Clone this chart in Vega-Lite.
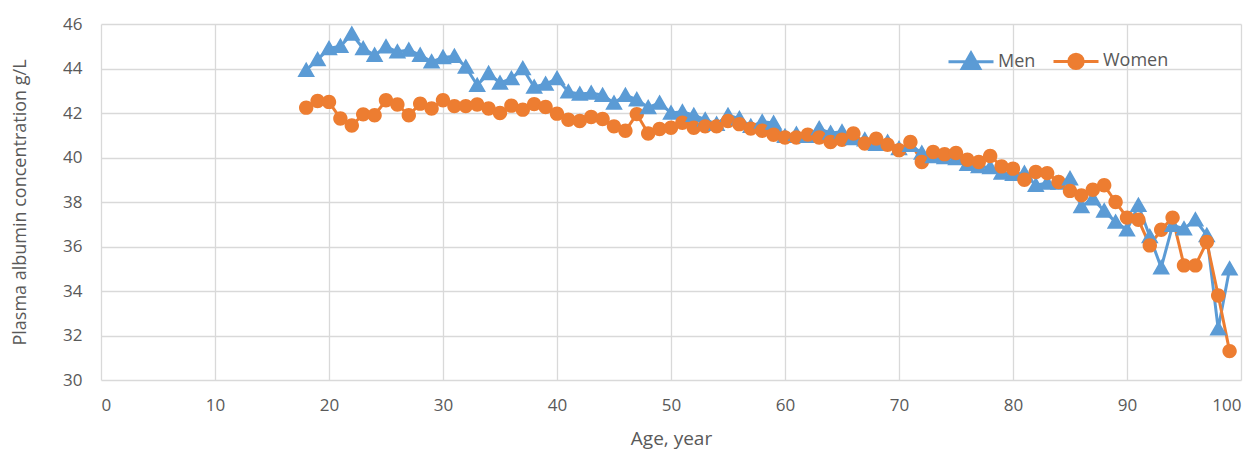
{
  "$schema": "https://vega.github.io/schema/vega-lite/v6.json",
  "width": 1140,
  "height": 356,
  "autosize": {"type": "none"},
  "padding": {"left": 101, "top": 24, "right": 18, "bottom": 70},
  "background": "white",
  "config": {
    "font": "Open Sans",
    "view": {"stroke": null},
    "axis": {"labelColor": "#595959", "titleColor": "#595959", "labelFontSize": 17, "titleFontSize": 18, "titleFontWeight": "normal", "gridColor": "#D9D9D9", "gridWidth": 1.3, "ticks": false, "domain": false}
  },
  "data": {"values": [
    {"age":18,"Men":43.92,"Women":42.24},{"age":19,"Men":44.4,"Women":42.54},{"age":20,"Men":44.9,"Women":42.5},
    {"age":21,"Men":45.0,"Women":41.75},{"age":22,"Men":45.55,"Women":41.44},{"age":23,"Men":44.9,"Women":41.94},
    {"age":24,"Men":44.6,"Women":41.9},{"age":25,"Men":44.98,"Women":42.57},{"age":26,"Men":44.75,"Women":42.38},
    {"age":27,"Men":44.83,"Women":41.9},{"age":28,"Men":44.6,"Women":42.42},{"age":29,"Men":44.3,"Women":42.2},
    {"age":30,"Men":44.5,"Women":42.57},{"age":31,"Men":44.55,"Women":42.31},{"age":32,"Men":44.07,"Women":42.31},
    {"age":33,"Men":43.25,"Women":42.38},{"age":34,"Men":43.78,"Women":42.2},{"age":35,"Men":43.35,"Women":42.0},
    {"age":36,"Men":43.55,"Women":42.33},{"age":37,"Men":44.0,"Women":42.15},{"age":38,"Men":43.17,"Women":42.4},
    {"age":39,"Men":43.3,"Women":42.27},{"age":40,"Men":43.55,"Women":41.97},{"age":41,"Men":42.95,"Women":41.7},
    {"age":42,"Men":42.85,"Women":41.64},{"age":43,"Men":42.9,"Women":41.82},{"age":44,"Men":42.8,"Women":41.73},
    {"age":45,"Men":42.45,"Women":41.4},{"age":46,"Men":42.8,"Women":41.2},{"age":47,"Men":42.6,"Women":41.95},
    {"age":48,"Men":42.25,"Women":41.08},{"age":49,"Men":42.45,"Women":41.28},{"age":50,"Men":42.0,"Women":41.34},
    {"age":51,"Men":42.05,"Women":41.56},{"age":52,"Men":41.9,"Women":41.34},{"age":53,"Men":41.7,"Women":41.4},
    {"age":54,"Men":41.5,"Women":41.4},{"age":55,"Men":41.9,"Women":41.64},{"age":56,"Men":41.75,"Women":41.5},
    {"age":57,"Men":41.4,"Women":41.3},{"age":58,"Men":41.6,"Women":41.2},{"age":59,"Men":41.55,"Women":41.02},
    {"age":60,"Men":40.95,"Women":40.9},{"age":61,"Men":41.05,"Women":40.9},{"age":62,"Men":40.95,"Women":41.03},
    {"age":63,"Men":41.3,"Women":40.9},{"age":64,"Men":41.1,"Women":40.7},{"age":65,"Men":41.15,"Women":40.8},
    {"age":66,"Men":40.85,"Women":41.08},{"age":67,"Men":40.8,"Women":40.63},{"age":68,"Men":40.6,"Women":40.85},
    {"age":69,"Men":40.7,"Women":40.57},{"age":70,"Men":40.4,"Women":40.33},{"age":71,"Men":40.55,"Women":40.7},
    {"age":72,"Men":40.2,"Women":39.8},{"age":73,"Men":40.05,"Women":40.25},{"age":74,"Men":40.0,"Women":40.15},
    {"age":75,"Men":39.95,"Women":40.2},{"age":76,"Men":39.7,"Women":39.9},{"age":77,"Men":39.6,"Women":39.8},
    {"age":78,"Men":39.55,"Women":40.07},{"age":79,"Men":39.3,"Women":39.6},{"age":80,"Men":39.25,"Women":39.5},
    {"age":81,"Men":39.3,"Women":39.0},{"age":82,"Men":38.75,"Women":39.35},{"age":83,"Men":38.85,"Women":39.3},
    {"age":84,"Men":38.85,"Women":38.9},{"age":85,"Men":39.05,"Women":38.5},{"age":86,"Men":37.8,"Women":38.3},
    {"age":87,"Men":38.15,"Women":38.55},{"age":88,"Men":37.6,"Women":38.75},{"age":89,"Men":37.1,"Women":38.0},
    {"age":90,"Men":36.75,"Women":37.3},{"age":91,"Men":37.85,"Women":37.2},{"age":92,"Men":36.45,"Women":36.05},
    {"age":93,"Men":35.05,"Women":36.75},{"age":94,"Men":36.95,"Women":37.3},{"age":95,"Men":36.8,"Women":35.15},
    {"age":96,"Men":37.2,"Women":35.15},{"age":97,"Men":36.5,"Women":36.2},{"age":98,"Men":32.3,"Women":33.8},
    {"age":99,"Men":35.0,"Women":31.3}
  ]},
  "transform": [{"fold": ["Men", "Women"], "as": ["sex", "value"]}],
  "encoding": {
    "x": {"field": "age", "type": "quantitative", "scale": {"domain": [0, 100], "nice": false},
      "axis": {"values": [0,10,20,30,40,50,60,70,80,90,100], "title": "Age, year", "titleFontSize": 19, "labelPadding": 17, "titlePadding": 16}},
    "y": {"field": "value", "type": "quantitative", "scale": {"domain": [30, 46], "nice": false, "zero": false},
      "axis": {"values": [30,32,34,36,38,40,42,44,46], "title": "Plasma albumin concentration g/L", "labelPadding": 19, "titlePadding": 33}},
    "color": {"field": "sex", "type": "nominal", "scale": {"domain": ["Men", "Women"], "range": ["#5B9BD5", "#ED7D31"]},
      "legend": {"title": null, "orient": "none", "direction": "horizontal", "legendX": 846, "legendY": 13, "labelFontSize": 18, "labelColor": "#595959", "symbolSize": 2025, "symbolStrokeWidth": 3, "columnPadding": 11, "labelOffset": 3}}
  },
  "layer": [
    {"mark": {"type": "line", "strokeWidth": 3}, "encoding": {"detail": {"field": "sex"}}},
    {"mark": {"type": "point", "filled": true, "opacity": 1, "size": 2025, "strokeWidth": 0},
      "encoding": {
        "shape": {"field": "sex", "type": "nominal", "scale": {"domain": ["Men", "Women"], "range": ["M-1,0H1M0,-0.38L0.39,0.3L-0.39,0.3Z", "M-1,0H1M0.32,0A0.32,0.32 0 1,1 -0.32,0A0.32,0.32 0 1,1 0.32,0Z"]}},
        "stroke": {"field": "sex", "type": "nominal", "scale": {"domain": ["Men", "Women"], "range": ["#5B9BD5", "#ED7D31"]}}}}
  ]
}
